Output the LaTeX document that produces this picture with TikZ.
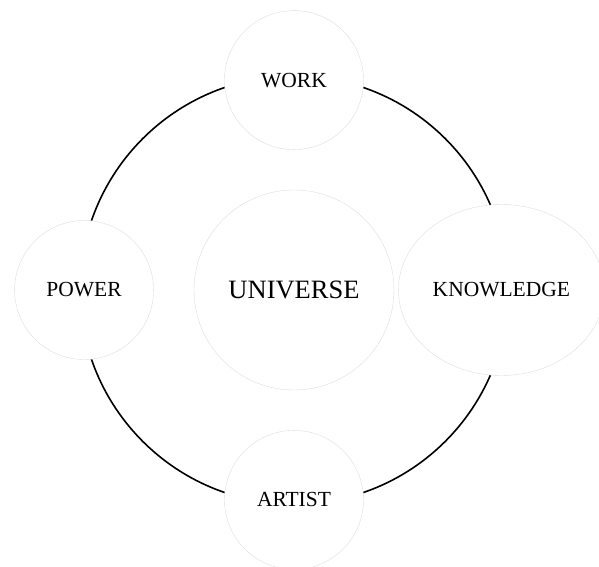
\documentclass[tikz,border=0pt]{standalone}
\usepackage{fontspec}
\setmainfont{Liberation Serif}
\usetikzlibrary{positioning,shapes.geometric}
\definecolor{FaintRim}{RGB}{222,222,222}
\tikzset{
  hub/.style={circle,draw=FaintRim,fill=white,line width=0.4pt,
    minimum size=200pt,inner sep=0pt,font=\fontsize{26.5}{30}\selectfont},
  spoke/.style={circle,draw=FaintRim,fill=white,line width=0.4pt,
    minimum size=139pt,inner sep=0pt,font=\fontsize{21.5}{25}\selectfont},
  widespoke/.style={ellipse,draw=FaintRim,fill=white,line width=0.4pt,
    minimum width=206pt,minimum height=171pt,inner sep=0pt,
    font=\fontsize{21.5}{25}\selectfont},
  ring/.style={line width=1.6pt,black}
}

\begin{document}
\begin{tikzpicture}[node distance=40pt]
  \useasboundingbox (-294pt,-276pt) rectangle (305pt,290pt);
  % the ring goes first so the circles cover it
  \coordinate (hub) at (0,0);
  \draw[ring] (hub) circle[radius=214pt];
  \node[hub] (universe) at (hub) {UNIVERSE};
  \node[spoke,above=of universe] (work) {WORK};
  \node[spoke,left=of universe] (power) {POWER};
  \node[spoke,below=of universe] (artist) {ARTIST};
  \node[widespoke,right=4pt of universe] (knowledge) {KNOWLEDGE};
\end{tikzpicture}
\end{document}
